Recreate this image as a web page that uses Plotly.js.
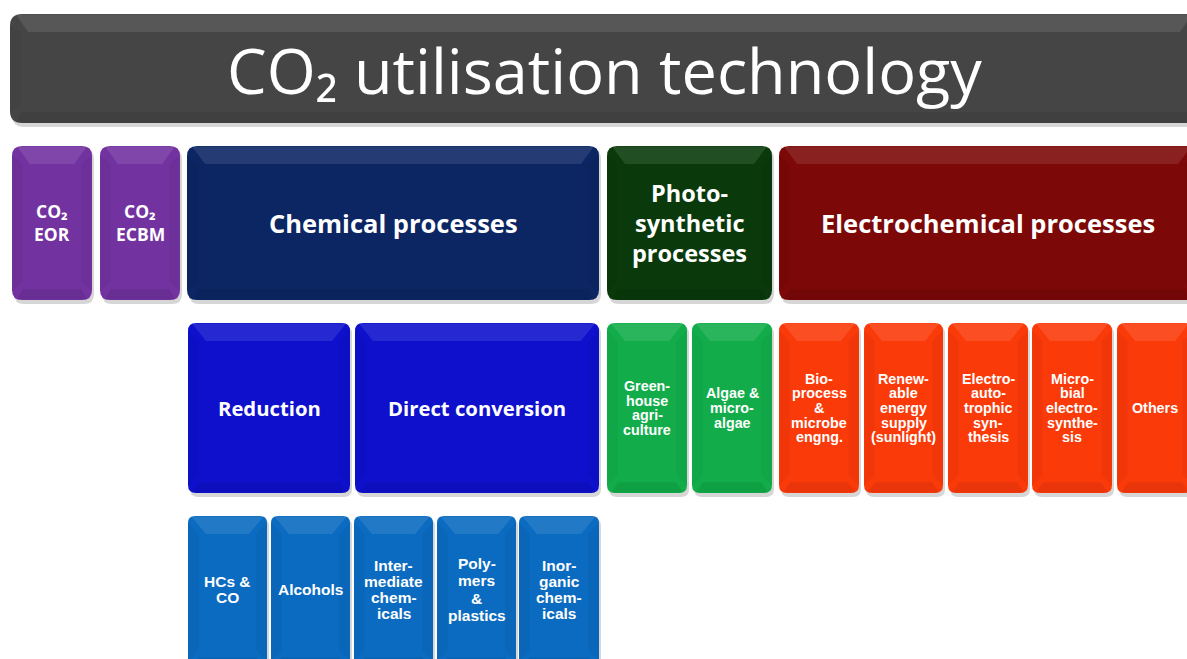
<!DOCTYPE html>
<html><head><meta charset="utf-8">
<script src="https://cdn.plot.ly/plotly-3.0.1.min.js"></script>
<style>html,body{margin:0;padding:0;background:#fff;overflow:hidden}#chart{width:1187px;height:659px}</style>
</head><body><div id="chart"></div>
<script>
// ---- content (labels) ----
const titleText = "CO₂ utilisation technology";
const level1Labels = [["CO₂","EOR"],["CO₂","ECBM"],["Chemical processes"],["Photo-","synthetic","processes"],["Electrochemical processes"]];
const level2Labels = [["Reduction"],["Direct conversion"],["Green-","house","agri-","culture"],["Algae &","micro-","algae"],["Bio-","process","&","microbe","engng."],["Renew-","able","energy","supply","(sunlight)"],["Electro-","auto-","trophic","syn-","thesis"],["Micro-","bial","electro-","synthe-","sis"],["Others"]];
const level3Labels = [["HCs &","CO"],["Alcohols"],["Inter-","mediate","chem-","icals"],["Poly-","mers","&","plastics"],["Inor-","ganic","chem-","icals"]];

// ---- geometry & style (kept separate) ----
const titleBox = [10,14,1198,123];
const level1Box = [[12,146,92,300],[100,146,180,300],[187,146,599,300],[607,146,772,300],[779,146,1196,300]];
const level1Color = ["#7232a0","#7232a0","#0c2664","#0a3a0c","#7c0808"];
const level1Font = [{f:"Open Sans",s:17.5,lh:23},{f:"Open Sans",s:17.5,lh:23},{f:"Open Sans",s:25.5,lh:29},{f:"Open Sans",s:23.5,lh:30},{f:"Open Sans",s:25.5,lh:29}];
const level2Box = [[188,323,350,493],[355,323,599,493],[607,323,687,493],[692,323,772,493],[779,323,859,493],[864,323,943,493],[948,323,1028,493],[1032,323,1112,493],[1117,323,1193,493]];
const level2Color = ["#0e10cc","#0e10cc","#12ad4a","#12ad4a","#fb3a0a","#fb3a0a","#fb3a0a","#fb3a0a","#fb3a0a"];
const level2Font = [{f:"Open Sans",s:20.3,lh:22},{f:"Open Sans",s:20.3,lh:22}];
const level3Box = [[188,516,267,668],[271,516,350,668],[354,516,433,668],[437,516,516,668],[519,516,599,668]];
const level3Color = "#0a6bc0";
const smallFont = {f:"Liberation Sans",s:14.3,lh:14.7};
const row3Font = {f:"Liberation Sans",s:15.5,lh:15.7};
const row3FontSpaced = {f:"Liberation Sans",s:15.5,lh:17.5};

function rr(x0,y0,x1,y1,r){
  return `M${x0+r},${y0} L${x1-r},${y0} Q${x1},${y0} ${x1},${y0+r} L${x1},${y1-r} Q${x1},${y1} ${x1-r},${y1} L${x0+r},${y1} Q${x0},${y1} ${x0},${y1-r} L${x0},${y0+r} Q${x0},${y0} ${x0+r},${y0} Z`;
}
const shapes=[], ann=[];
function box(b,color,r){
  const [x0,y0,x1,y1]=b;
  shapes.push({type:"path",xref:"x",yref:"y",path:rr(x0+2,y0+3,x1+2,y1+4,r),fillcolor:"rgba(0,0,0,0.16)",line:{width:0},layer:"above"});
  shapes.push({type:"path",xref:"x",yref:"y",path:rr(x0,y0,x1,y1,r),fillcolor:color,line:{width:0},layer:"above"});
  const bv=Math.min(18,(x1-x0)/4);
  shapes.push({type:"path",xref:"x",yref:"y",path:`M${x0+r*0.5},${y0+0.5} L${x1-r*0.5},${y0+0.5} L${x1-bv},${y0+bv} L${x0+bv},${y0+bv} Z`,fillcolor:"rgba(255,255,255,0.10)",line:{width:0},layer:"above"});
  shapes.push({type:"path",xref:"x",yref:"y",path:`M${x0+0.5},${y0+r} L${x0+bv*0.6},${y0+bv} L${x0+bv*0.6},${y1-bv} L${x0+0.5},${y1-r} Z`,fillcolor:"rgba(0,0,0,0.04)",line:{width:0},layer:"above"});
  shapes.push({type:"path",xref:"x",yref:"y",path:`M${x0+r*0.5},${y1-0.5} L${x1-r*0.5},${y1-0.5} L${x1-bv*0.6},${y1-bv*0.6} L${x0+bv*0.6},${y1-bv*0.6} Z`,fillcolor:"rgba(0,0,0,0.07)",line:{width:0},layer:"above"});
  shapes.push({type:"path",xref:"x",yref:"y",path:`M${x1-0.5},${y0+r} L${x1-bv*0.6},${y0+bv} L${x1-bv*0.6},${y1-bv} L${x1-0.5},${y1-r} Z`,fillcolor:"rgba(0,0,0,0.04)",line:{width:0},layer:"above"});
}
function label(b,lines,font,bold,yc){
  const cx=(b[0]+b[2])/2, cy=(yc!==undefined)?yc:(b[1]+b[3])/2;
  const n=lines.length;
  lines.forEach((t,i)=>{
    ann.push({x:cx,y:cy+(i-(n-1)/2)*font.lh,xref:"x",yref:"y",text:bold?`<b>${t}</b>`:t,showarrow:false,
      font:{family:font.f,size:font.s,color:"#ffffff"},xanchor:"center",yanchor:"middle"});
  });
}
box(titleBox,"#454545",12);
ann.push({x:604,y:69,xref:"x",yref:"y",text:titleText,showarrow:false,font:{family:"Open Sans",size:63,color:"#ffffff"},xanchor:"center",yanchor:"middle"});
level1Box.forEach((b,i)=>{box(b,level1Color[i],10);label(b,level1Labels[i],level1Font[i],true,222.5);});
level2Box.forEach((b,i)=>{box(b,level2Color[i],8);label(b,level2Labels[i],i<2?level2Font[i]:smallFont,true);});
level3Box.forEach((b,i)=>{box(b,level3Color,7);label(b,level3Labels[i],i===3?row3FontSpaced:row3Font,true,589.5);});

Plotly.newPlot("chart",[{x:[0],y:[0],mode:"markers",marker:{opacity:0},hoverinfo:"skip",showlegend:false}],{
  width:1187,height:659,margin:{l:0,r:0,t:0,b:0},paper_bgcolor:"#ffffff",plot_bgcolor:"#ffffff",
  xaxis:{range:[0,1187],visible:false,fixedrange:true},
  yaxis:{range:[659,0],visible:false,fixedrange:true},
  shapes:shapes,annotations:ann,showlegend:false
},{staticPlot:true});
</script></body></html>
